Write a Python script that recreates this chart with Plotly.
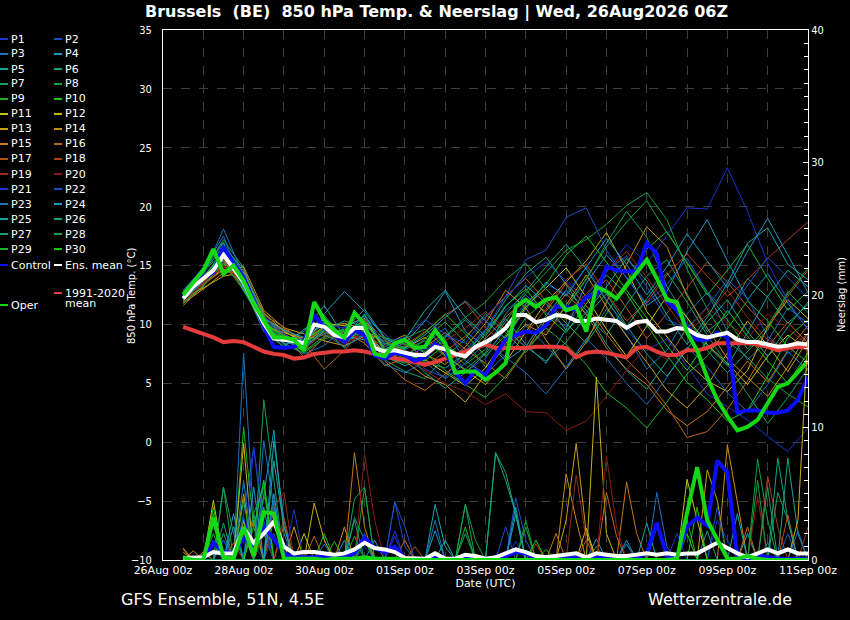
"""
GFS ensemble plume for Brussels: 850 hPa temperature and precipitation.
"""
import pandas as pd
import plotly.graph_objects as go

# ---------------------------------------------------------------------------
# Data (6-hourly for the main curves, 12-hourly for the temperature members)
# ---------------------------------------------------------------------------
START = "2026-08-26 12:00"
N_STEPS = 63

T_MEAN = [12.2, 13.2, 13.9, 14.6, 15.9, 14.8, 13.6, 11.8, 10.1, 8.8,
          8.7, 8.6, 8.4, 10.0, 9.8, 9.1, 8.9, 9.7, 9.7, 8.0,
          7.7, 7.8, 7.6, 7.4, 7.4, 8.1, 7.9, 7.5, 7.3, 8.1,
          8.5, 9.0, 9.7, 10.8, 10.8, 10.2, 10.4, 10.8, 10.7, 10.3,
          10.3, 10.5, 10.4, 10.3, 9.7, 10.2, 10.3, 9.4, 9.4, 9.7,
          9.6, 9.1, 8.9, 9.1, 9.3, 8.7, 8.5, 8.5, 8.3, 8.1,
          8.2, 8.4, 8.3]
T_CLIM = [9.8, 9.5, 9.2, 8.9, 8.5, 8.6, 8.5, 8.1, 7.7, 7.5,
          7.4, 7.1, 7.2, 7.5, 7.6, 7.7, 7.7, 7.8, 7.7, 7.5,
          7.3, 7.1, 7.0, 6.8, 6.6, 6.8, 7.1, 7.4, 7.7, 8.0,
          8.3, 8.0, 8.0, 8.0, 8.0, 8.1, 8.1, 8.1, 8.0, 7.2,
          7.6, 7.7, 7.6, 7.4, 7.2, 8.0, 8.1, 7.7, 7.4, 7.4,
          7.8, 7.8, 8.0, 8.4, 8.4, 8.4, 8.4, 8.3, 8.1, 7.8,
          8.0, 8.1, 8.0]
T_CONTROL = [12.3, 13.2, 14.0, 14.4, 16.6, 15.2, 14.0, 12.0, 9.8, 8.1,
             8.0, 8.1, 8.6, 10.8, 9.7, 9.1, 8.5, 9.5, 9.1, 7.4,
             7.1, 7.6, 7.4, 6.9, 7.2, 8.3, 7.8, 5.9, 5.0, 6.1,
             5.7, 7.4, 8.7, 9.1, 9.4, 9.3, 9.9, 11.5, 11.5, 11.2,
             12.3, 12.5, 14.9, 14.6, 14.5, 14.5, 16.9, 16.0, 12.0, 11.2,
             9.8, 8.7, 8.7, 9.3, 8.9, 2.5, 2.7, 2.7, 2.5, 2.5,
             2.7, 3.6, 5.5]
T_OPER = [12.5, 13.5, 14.6, 16.4, 14.3, 15.0, 13.7, 11.8, 10.3, 8.9,
          8.9, 8.7, 7.8, 11.9, 10.4, 9.5, 8.9, 11.0, 10.0, 7.5,
          7.3, 8.4, 8.7, 8.0, 8.1, 9.5, 8.4, 5.9, 6.0, 6.0,
          5.3, 5.9, 6.7, 11.5, 12.1, 11.5, 12.1, 12.3, 11.2, 11.5,
          9.4, 13.2, 12.8, 12.2, 13.3, 14.4, 15.5, 13.9, 12.1, 11.9,
          9.3, 7.8, 5.5, 3.6, 2.2, 1.0, 1.3, 1.9, 3.3, 4.7,
          5.0, 5.9, 6.9]

R_MEAN = [0.15, 0.2, 0.2, 0.6, 0.5, 0.5, 2.4, 1.3, 2.0, 2.9,
          1.0, 0.5, 0.6, 0.6, 0.5, 0.4, 0.5, 0.8, 1.3, 0.9,
          0.8, 0.6, 0.15, 0.1, 0.1, 0.5, 0.1, 0.1, 0.4, 0.3,
          0.1, 0.2, 0.5, 0.8, 0.6, 0.3, 0.2, 0.3, 0.4, 0.5,
          0.2, 0.5, 0.4, 0.3, 0.3, 0.4, 0.5, 0.4, 0.5, 0.4,
          0.5, 0.5, 0.9, 1.3, 0.9, 0.5, 0.2, 0.5, 0.8, 0.5,
          0.8, 0.5, 0.5]
R_CONTROL = [0.0, 0.0, 0.0, 1.3, 0.6, 0.5, 1.7, 1.0, 2.5, 1.6,
             0.5, 0.2, 0.2, 0.2, 0.3, 0.2, 0.3, 0.5, 1.7, 0.9,
             0.6, 1.0, 0.1, 0.0, 0.0, 0.2, 0.0, 0.0, 0.1, 0.1,
             0.0, 0.2, 0.3, 0.6, 0.5, 0.1, 0.1, 0.2, 0.2, 0.2,
             0.1, 0.2, 0.1, 0.1, 0.1, 0.2, 0.5, 2.8, 0.3, 0.3,
             2.5, 3.2, 2.6, 7.5, 6.6, 0.2, 0.1, 0.4, 0.2, 0.1,
             0.1, 0.1, 0.1]
R_OPER = [0.2, 0.0, 0.0, 3.2, 0.2, 0.1, 2.5, 0.3, 3.6, 3.5,
          0.1, 0.1, 0.1, 0.1, 0.0, 0.1, 0.1, 0.1, 0.2, 0.1,
          0.1, 0.1, 0.0, 0.0, 0.0, 0.0, 0.0, 0.0, 0.0, 0.0,
          0.0, 0.0, 0.0, 0.0, 0.0, 0.0, 0.0, 0.0, 0.0, 0.0,
          0.0, 0.0, 0.0, 0.0, 0.0, 0.0, 0.0, 0.0, 0.0, 0.1,
          3.5, 7.0, 3.0, 1.5, 0.1, 0.1, 0.3, 0.1, 0.0, 0.0,
          0.0, 0.0, 0.0]

# member 850 hPa temperatures, 12-hourly
T_P01 = [12.0, 14.2, 16.8, 14.5, 10.6, 8.2, 8.9, 10.3, 8.4, 9.9, 7.1, 6.8, 7.9, 8.5, 6.0, 7.1,
         9.8, 11.8, 13.4, 12.6, 14.9, 12.1, 9.5, 7.8, 8.8, 6.4, 4.1, 3.0, 1.9, 0.5, -0.8, 1.2]
T_P02 = [12.4, 13.6, 15.2, 13.9, 10.9, 9.1, 8.0, 9.4, 9.3, 10.2, 8.4, 7.9, 6.2, 5.5, 7.8, 9.6,
         11.2, 12.5, 11.0, 9.8, 12.4, 14.6, 15.8, 13.2, 10.4, 9.7, 11.5, 13.8, 12.2, 9.0, 7.5, 8.9]
T_P03 = [12.9, 14.8, 17.5, 13.2, 9.5, 8.4, 7.5, 8.2, 9.8, 10.6, 9.2, 7.4, 8.3, 9.7, 6.9, 5.8,
         7.4, 9.9, 8.2, 6.4, 8.7, 11.3, 9.1, 6.2, 7.8, 10.9, 12.7, 9.4, 7.0, 8.6, 11.4, 10.1]
T_P04 = [11.9, 13.2, 16.1, 14.2, 10.2, 9.5, 8.3, 10.6, 8.6, 9.1, 7.8, 8.4, 10.3, 12.8, 9.4, 8.1,
         10.5, 8.3, 6.7, 9.6, 13.5, 15.9, 14.0, 11.6, 12.8, 16.2, 18.9, 15.4, 12.1, 14.3, 11.8, 9.6]
T_P05 = [12.5, 14.0, 15.4, 13.0, 9.8, 8.6, 9.4, 11.6, 9.0, 8.7, 7.3, 6.5, 7.1, 8.9, 10.4, 8.7,
         6.9, 8.1, 10.7, 12.9, 11.2, 8.3, 6.1, 4.5, 6.9, 9.8, 8.2, 6.5, 9.3, 12.4, 14.6, 13.2]
T_P06 = [12.1, 13.5, 16.4, 12.8, 10.4, 9.0, 8.6, 9.2, 9.5, 11.3, 8.9, 7.8, 6.8, 6.3, 7.5, 9.4,
         12.1, 14.3, 15.7, 13.4, 10.8, 9.1, 11.7, 14.1, 15.5, 12.6, 9.4, 10.8, 13.9, 12.3, 10.1, 11.7]
T_P07 = [12.6, 14.4, 17.2, 14.8, 10.0, 8.0, 7.9, 10.8, 8.7, 9.4, 7.0, 6.0, 5.4, 7.2, 8.8, 10.9,
         9.3, 7.6, 9.9, 11.4, 13.8, 16.9, 19.6, 17.4, 13.2, 10.6, 7.8, 5.9, 7.7, 9.5, 12.8, 11.0]
T_P08 = [12.3, 13.8, 15.6, 14.0, 9.6, 8.9, 8.2, 9.9, 9.1, 10.1, 8.1, 8.8, 9.6, 8.0, 6.6, 7.9,
         10.2, 12.6, 14.4, 16.3, 17.2, 18.5, 20.1, 21.2, 18.9, 14.7, 11.3, 8.6, 7.2, 5.4, 4.1, 3.0]
T_P09 = [12.7, 14.6, 16.0, 13.5, 10.7, 8.3, 8.6, 9.6, 8.0, 10.8, 7.6, 7.2, 8.8, 10.2, 8.5, 6.4,
         8.0, 10.6, 12.0, 10.1, 8.4, 10.9, 13.6, 16.4, 17.9, 15.2, 12.5, 14.6, 16.8, 13.9, 11.2, 12.8]
T_P10 = [12.0, 13.9, 15.8, 13.3, 10.3, 8.8, 7.7, 9.0, 9.6, 9.2, 8.6, 7.5, 6.9, 8.3, 7.1, 9.2,
         11.6, 13.0, 10.8, 9.3, 11.8, 14.2, 12.6, 10.0, 7.4, 5.1, 3.6, 1.8, 2.7, 5.6, 8.9, 10.4]
T_P11 = [12.8, 13.4, 14.7, 13.8, 9.9, 9.3, 8.8, 10.1, 9.9, 10.5, 7.9, 8.6, 7.0, 5.9, 4.8, 6.3,
         8.9, 11.5, 13.1, 14.8, 12.3, 9.6, 7.3, 9.9, 12.4, 10.6, 8.3, 6.7, 4.9, 7.3, 9.1, 7.8]
T_P12 = [12.2, 13.1, 14.1, 14.4, 11.0, 9.4, 8.5, 9.5, 8.8, 9.9, 7.4, 8.0, 8.9, 7.4, 6.1, 4.9,
         6.8, 9.4, 11.9, 13.6, 15.4, 17.8, 14.6, 11.1, 8.9, 6.8, 5.2, 4.3, 6.1, 9.8, 12.1, 10.5]
T_P13 = [11.8, 13.0, 14.4, 14.9, 11.2, 9.7, 9.2, 8.6, 8.2, 9.0, 7.7, 6.9, 5.6, 4.9, 3.4, 5.8,
         8.4, 10.0, 9.1, 11.7, 14.2, 11.5, 9.0, 6.8, 4.4, 2.9, 4.8, 7.6, 10.3, 8.2, 6.0, 8.7]
T_P14 = [12.4, 14.1, 15.5, 13.1, 10.5, 9.6, 8.7, 9.8, 10.1, 9.6, 8.3, 9.1, 7.5, 6.6, 8.1, 10.1,
         12.9, 11.4, 8.7, 6.2, 8.5, 11.9, 15.1, 18.3, 16.6, 12.4, 9.7, 7.1, 5.5, 3.9, 6.4, 9.3]
T_P15 = [11.6, 13.3, 14.9, 13.7, 9.9, 9.2, 7.2, 8.9, 9.4, 8.4, 6.5, 7.1, 8.1, 9.3, 7.9, 6.7,
         5.4, 7.8, 10.4, 12.6, 10.9, 8.0, 6.2, 4.9, 2.7, 1.4, 2.6, 4.7, 6.9, 5.1, 7.8, 9.9]
T_P16 = [12.1, 13.7, 15.1, 14.6, 10.8, 9.8, 8.4, 6.2, 7.8, 9.7, 6.9, 5.3, 4.4, 5.8, 7.2, 8.8,
         10.6, 12.2, 11.1, 13.5, 11.6, 9.2, 7.0, 5.3, 3.1, 0.4, 0.9, 2.8, 5.2, 8.1, 10.2, 8.4]
T_P17 = [12.3, 13.9, 15.3, 13.4, 10.0, 8.5, 8.9, 9.1, 8.5, 10.4, 8.7, 7.6, 6.4, 7.7, 9.0, 10.6,
         12.4, 13.9, 12.0, 10.4, 12.2, 13.8, 11.4, 8.8, 10.9, 13.1, 15.3, 13.6, 11.5, 9.7, 12.4, 14.6]
T_P18 = [11.9, 13.4, 14.6, 13.9, 10.6, 9.3, 7.9, 9.3, 8.9, 9.5, 7.5, 8.2, 9.4, 10.8, 11.9, 9.7,
         8.3, 9.2, 11.3, 13.8, 15.1, 12.7, 10.3, 11.9, 14.2, 16.0, 14.1, 12.4, 13.8, 15.6, 17.2, 18.7]
T_P19 = [12.2, 13.6, 15.0, 13.2, 10.1, 8.7, 8.6, 9.7, 9.2, 8.8, 7.6, 8.4, 7.1, 8.6, 9.7, 11.1,
         9.6, 8.0, 9.4, 11.0, 12.6, 14.5, 16.2, 14.0, 11.7, 9.3, 10.8, 12.9, 10.6, 8.7, 7.9, 9.2]
T_P20 = [12.0, 13.5, 14.9, 13.6, 10.4, 9.1, 8.1, 9.4, 8.3, 9.3, 8.0, 7.0, 6.1, 5.0, 4.3, 3.2,
         4.1, 2.6, 2.5, 1.0, 1.8, 3.9, 6.1, 8.2, 7.0, 9.6, 11.4, 10.1, 8.8, 10.9, 9.6, 8.3]
T_P21 = [12.6, 14.0, 16.3, 13.8, 9.7, 8.6, 8.8, 10.0, 9.7, 10.6, 8.2, 7.3, 8.0, 9.1, 8.4, 10.7,
         12.3, 14.0, 15.3, 13.7, 12.1, 14.4, 16.8, 15.2, 17.6, 19.9, 19.8, 23.3, 19.6, 15.2, 12.0, 9.5]
T_P22 = [12.1, 13.8, 16.0, 13.9, 10.3, 9.2, 8.1, 9.6, 9.4, 10.0, 8.5, 8.9, 10.4, 9.2, 7.6, 9.5,
         12.4, 15.5, 16.3, 19.1, 19.9, 16.3, 13.9, 11.8, 13.4, 15.6, 12.8, 10.9, 13.3, 15.7, 14.0, 12.2]
T_P23 = [12.4, 14.3, 18.1, 14.1, 9.9, 8.4, 8.3, 9.2, 8.1, 9.1, 6.6, 5.9, 6.8, 5.4, 6.7, 8.5,
         7.2, 5.9, 4.1, 6.3, 8.8, 7.1, 5.0, 3.2, 5.5, 8.1, 6.4, 4.2, 2.6, 4.9, 7.7, 6.1]
T_P24 = [12.7, 14.9, 17.0, 13.0, 10.5, 9.5, 8.9, 10.9, 12.8, 11.1, 8.8, 8.0, 9.1, 10.6, 12.0, 10.3,
         8.8, 11.3, 13.6, 12.4, 14.8, 17.3, 15.1, 12.5, 14.9, 17.7, 15.4, 13.1, 16.2, 19.0, 15.9, 12.7]
T_P25 = [12.0, 13.7, 15.7, 13.3, 9.4, 8.1, 9.6, 10.4, 8.8, 10.9, 7.9, 8.7, 11.2, 12.9, 10.6, 9.0,
         11.5, 13.3, 11.8, 9.5, 11.0, 13.2, 15.6, 13.7, 10.8, 8.3, 10.6, 13.5, 16.9, 18.2, 15.1, 13.8]
T_P26 = [12.5, 14.5, 16.6, 14.7, 10.7, 9.0, 8.0, 9.5, 10.3, 9.8, 7.2, 7.7, 5.9, 4.6, 5.9, 7.5,
         9.6, 8.1, 6.9, 8.5, 10.7, 12.6, 9.9, 7.5, 5.6, 7.9, 10.2, 12.1, 9.4, 7.3, 9.8, 11.9]
T_P27 = [12.2, 14.1, 15.9, 13.6, 10.0, 8.8, 8.5, 10.2, 9.0, 10.0, 8.4, 7.9, 8.6, 7.3, 6.2, 7.6,
         10.9, 12.8, 14.9, 16.8, 14.7, 12.0, 9.8, 12.2, 14.4, 11.9, 9.1, 6.6, 4.0, 1.6, 3.8, 6.3]
T_P28 = [12.8, 14.7, 16.9, 14.3, 10.2, 8.3, 7.6, 8.8, 9.1, 9.3, 8.9, 8.3, 7.7, 9.0, 10.6, 11.9,
         13.8, 15.2, 13.0, 11.4, 13.9, 16.6, 18.7, 20.5, 17.8, 15.3, 12.7, 10.4, 7.9, 9.9, 12.6, 14.8]
T_P29 = [11.8, 13.3, 15.2, 12.9, 9.8, 8.6, 8.2, 9.4, 8.6, 9.6, 7.3, 6.7, 7.6, 6.1, 4.9, 3.8,
         5.6, 7.9, 9.7, 8.3, 6.6, 4.2, 2.9, 1.2, 3.4, 5.8, 7.3, 9.6, 12.0, 10.3, 8.1, 6.8]
T_P30 = [12.3, 14.0, 16.2, 13.7, 10.1, 9.0, 8.7, 9.7, 9.4, 10.3, 7.8, 8.1, 9.3, 10.9, 9.2, 7.3,
         9.1, 11.7, 13.4, 15.9, 17.5, 15.3, 12.9, 10.6, 8.2, 6.1, 8.6, 11.2, 9.0, 6.9, 5.0, 7.6]

# member precipitation (mm per 6 h), only the non-zero steps: {step: mm}
R_P01 = {3: 0.8, 6: 2.1, 7: 1.2, 18: 1.0, 21: 2.2, 33: 1.4, 53: 3.0, 54: 1.5}
R_P02 = {6: 3.5, 7: 8.5, 8: 2.0, 21: 4.4, 22: 1.0, 33: 4.7, 34: 1.5, 60: 2.0}
R_P03 = {6: 15.6, 7: 3.0, 9: 4.5, 14: 1.2, 18: 2.0, 47: 5.1, 48: 1.0, 58: 1.3}
R_P04 = {5: 2.5, 8: 5.0, 9: 9.8, 10: 2.0, 19: 1.5, 25: 2.2, 41: 1.6, 44: 1.2}
R_P05 = {4: 1.5, 7: 3.5, 9: 9.0, 10: 3.0, 25: 4.2, 26: 1.0, 33: 3.4, 56: 2.0}
R_P06 = {2: 0.5, 8: 4.0, 17: 3.2, 18: 1.5, 31: 8.1, 32: 6.6, 33: 3.5, 52: 2.2, 60: 7.7, 61: 2.0}
R_P07 = {4: 2.8, 8: 12.1, 9: 6.0, 17: 4.6, 18: 5.5, 28: 2.0, 59: 5.1, 60: 3.0}
R_P08 = {4: 5.5, 6: 3.0, 8: 4.8, 9: 3.0, 17: 1.8, 28: 4.2, 29: 1.5, 57: 7.6, 58: 3.0}
R_P09 = {3: 2.0, 6: 10.0, 7: 2.5, 15: 1.4, 34: 2.5, 41: 1.0}
R_P10 = {3: 3.5, 8: 2.0, 18: 1.5, 36: 0.8, 50: 2.0}
R_P11 = {0: 0.8, 3: 4.5, 6: 3.0, 12: 2.0, 40: 2.4, 50: 6.1, 51: 3.0}
R_P12 = {6: 8.8, 13: 4.3, 14: 1.5, 41: 13.8, 42: 2.0, 61: 3.0, 62: 17.0}
R_P13 = {0: 0.6, 6: 5.0, 11: 2.5, 38: 3.0, 39: 8.8, 40: 2.0, 52: 6.8, 53: 4.5}
R_P14 = {1: 0.7, 9: 4.0, 16: 2.5, 38: 6.5, 39: 3.0, 54: 8.7, 55: 4.5}
R_P15 = {0: 0.9, 7: 3.0, 17: 8.1, 18: 2.5, 37: 2.0, 44: 5.9, 45: 2.0}
R_P16 = {2: 0.6, 10: 2.6, 13: 1.8, 22: 1.5, 42: 5.1, 43: 1.8, 56: 2.5}
R_P17 = {5: 1.3, 9: 3.0, 23: 1.0, 40: 1.5, 60: 3.4}
R_P18 = {6: 2.0, 10: 3.2, 35: 1.2, 58: 6.3, 59: 2.5}
R_P19 = {9: 4.0, 10: 5.1, 39: 6.4, 40: 1.5, 62: 2.5}
R_P20 = {8: 2.0, 18: 8.0, 19: 3.0, 42: 7.9, 43: 2.5, 57: 4.8}
R_P21 = {4: 1.5, 7: 8.5, 8: 3.0, 11: 3.8, 21: 1.8, 49: 2.0}
R_P22 = {6: 3.2, 9: 2.0, 21: 4.4, 22: 2.5, 32: 2.5, 53: 4.0}
R_P23 = {6: 6.0, 8: 9.0, 9: 4.0, 25: 3.0, 47: 2.5, 61: 2.2}
R_P24 = {5: 3.5, 7: 5.5, 9: 5.0, 16: 1.5, 33: 4.0, 44: 1.5}
R_P25 = {3: 1.5, 9: 7.5, 10: 2.5, 26: 1.5, 46: 2.8, 55: 3.5}
R_P26 = {4: 2.0, 8: 6.0, 31: 8.1, 32: 6.0, 33: 3.5, 59: 7.7, 60: 3.0}
R_P27 = {4: 5.5, 5: 2.0, 17: 3.0, 28: 4.2, 58: 5.5}
R_P28 = {7: 3.5, 8: 5.5, 18: 5.5, 34: 3.0, 57: 6.0}
R_P29 = {3: 3.0, 6: 4.5, 14: 2.0, 28: 2.5, 50: 3.0}
R_P30 = {3: 4.0, 7: 2.5, 8: 6.0, 35: 1.5, 51: 4.0}

TICK_DATES = ["2026-08-26", "2026-08-28", "2026-08-30", "2026-09-01", "2026-09-03",
              "2026-09-05", "2026-09-07", "2026-09-09", "2026-09-11"]
TICK_LABELS = ["26Aug 00z", "28Aug 00z", "30Aug 00z", "01Sep 00z", "03Sep 00z",
               "05Sep 00z", "07Sep 00z", "09Sep 00z", "11Sep 00z"]

# colour ramp of P1..P20, repeated for P21..P30
MEMBER_COLORS = ["#1e34d2", "#1a50c4", "#1a72c0", "#1a96c6", "#16a6a8",
                 "#14a484", "#14a062", "#16a040", "#1cb424", "#16c814",
                 "#c4c414", "#c8b212", "#c89e12", "#c88c12", "#c87814",
                 "#c06612", "#b45214", "#b03e16", "#9e2a16", "#8c1818"]

FONT = "DejaVu Sans"
NARROW = "DejaVu Sans Condensed, DejaVu Sans"

# plot area in pixels
LEFT, RIGHT, TOP, BOTTOM = 163, 808, 30, 560


def px(x):
    """Pixel x -> paper x."""
    return (x - LEFT) / (RIGHT - LEFT)


def py(y):
    """Pixel y -> paper y."""
    return (BOTTOM - y) / (BOTTOM - TOP)


def full_rain(steps):
    """Expand {step: mm} into a full 6-hourly series (dry steps are 0)."""
    return [steps.get(i, 0.0) for i in range(N_STEPS)]


times6 = pd.date_range(START, periods=N_STEPS, freq="6h")
times12 = times6[::2]

member_temps = [T_P01, T_P02, T_P03, T_P04, T_P05, T_P06, T_P07, T_P08, T_P09, T_P10,
                T_P11, T_P12, T_P13, T_P14, T_P15, T_P16, T_P17, T_P18, T_P19, T_P20,
                T_P21, T_P22, T_P23, T_P24, T_P25, T_P26, T_P27, T_P28, T_P29, T_P30]
member_rain = [R_P01, R_P02, R_P03, R_P04, R_P05, R_P06, R_P07, R_P08, R_P09, R_P10,
               R_P11, R_P12, R_P13, R_P14, R_P15, R_P16, R_P17, R_P18, R_P19, R_P20,
               R_P21, R_P22, R_P23, R_P24, R_P25, R_P26, R_P27, R_P28, R_P29, R_P30]

fig = go.Figure()

# Members: temperature then precipitation
for n, temps in enumerate(member_temps):
    fig.add_trace(go.Scatter(
        x=times12[:len(temps)], y=temps, mode="lines",
        line={"color": MEMBER_COLORS[n % 20], "width": 1},
        name=f"P{n + 1}", hoverinfo="skip"))

for n, rain in enumerate(member_rain):
    fig.add_trace(go.Scatter(
        x=times6, y=full_rain(rain), mode="lines", yaxis="y2",
        line={"color": MEMBER_COLORS[n % 20], "width": 1},
        name=f"P{n + 1}", hoverinfo="skip"))

# Thick lines
THICK = [
    (T_CLIM, "y", "#e63c3c", "1991-2020 mean"),
    (T_CONTROL, "y", "#0c0cff", "Control"),
    (T_MEAN, "y", "#ffffff", "Ens. mean"),
    (T_OPER, "y", "#14d814", "Oper"),
    (R_CONTROL, "y2", "#0c0cff", "Control"),
    (R_MEAN, "y2", "#ffffff", "Ens. mean"),
    (R_OPER, "y2", "#14d814", "Oper"),
]
for vals, axis, color, name in THICK:
    fig.add_trace(go.Scatter(
        x=times6[:len(vals)], y=vals, mode="lines", yaxis=axis,
        line={"color": color, "width": 4}, name=name))

# Hand-drawn legend on the left
shapes = []
annotations = []


def legend_text(x, y, text, height=None):
    """Add one white legend label at pixel position."""
    item = dict(xref="paper", yref="paper", x=px(x), y=py(y),
                text=text, showarrow=False, xanchor="left", yanchor="middle",
                align="left", font={"size": 11, "color": "white", "family": FONT})
    if height:
        item["height"] = height
    annotations.append(item)


def legend_item(x_line, y, color, text, height=None):
    """Add one legend entry (short line + label) at pixel position."""
    shapes.append(dict(type="line", xref="paper", yref="paper",
                       x0=px(x_line), x1=px(x_line + 8), y0=py(y), y1=py(y),
                       line={"color": color, "width": 2}))
    legend_text(x_line + 8.5, y, text, height)


for row in range(15):
    y = 39 + 15 * row
    legend_item(0, y, MEMBER_COLORS[(2 * row) % 20], f"P{2 * row + 1}")
    legend_item(54, y, MEMBER_COLORS[(2 * row + 1) % 20], f"P{2 * row + 2}")
legend_item(0, 265, "#0c0cff", "Control")
legend_item(54, 265, "#ffffff", "Ens. mean")
legend_item(54, 293, "#e63c3c", "1991-2020", height=10)
legend_text(62.5, 303, "mean", height=10)
legend_item(0, 305, "#14d814", "Oper")

# Axis titles placed by hand (rotated)
annotations.append(dict(
    xref="paper", yref="paper", x=px(131), y=py(296), text="850 hPa Temp. (°C)",
    textangle=-90, showarrow=False, xanchor="center", yanchor="middle",
    font={"size": 10, "color": "white", "family": FONT}))
annotations.append(dict(
    xref="paper", yref="paper", x=px(841), y=py(295), text="Neerslag (mm)",
    textangle=-90, showarrow=False, xanchor="center", yanchor="middle",
    font={"size": 10, "color": "white", "family": FONT}))

# Title and footer texts
annotations.append(dict(
    xref="paper", yref="paper", x=px(436), y=py(12),
    text="<b>Brussels\u00a0\u00a0(BE)\u00a0\u00a0850 hPa Temp. &amp; Neerslag | Wed, 26Aug2026 06Z</b>",
    showarrow=False, xanchor="center", yanchor="middle",
    font={"size": 16, "color": "white", "family": FONT}))
annotations.append(dict(
    xref="paper", yref="paper", x=px(119), y=py(599), text="GFS Ensemble, 51N, 4.5E",
    showarrow=False, xanchor="left", yanchor="middle",
    font={"size": 16, "color": "white", "family": FONT}))
annotations.append(dict(
    xref="paper", yref="paper", x=px(794), y=py(599), text="Wetterzentrale.de",
    showarrow=False, xanchor="right", yanchor="middle",
    font={"size": 16, "color": "white", "family": FONT}))

GRID = "#3e3e3e"

fig.update_layout(
    width=850, height=620,
    margin={"l": LEFT, "r": 850 - RIGHT, "t": TOP, "b": 620 - BOTTOM},
    paper_bgcolor="black", plot_bgcolor="black",
    font={"family": FONT, "size": 11, "color": "white"},
    showlegend=False,
    shapes=shapes, annotations=annotations,
    xaxis={
        "type": "date",
        "range": ["2026-08-26 00:00", "2026-09-11 00:00"],
        "tickvals": TICK_DATES, "ticktext": TICK_LABELS,
        "tickfont": {"size": 11},
        "showgrid": True, "gridcolor": GRID, "griddash": "dash", "gridwidth": 1,
        "minor": {"dtick": 86400000, "showgrid": True, "gridcolor": GRID,
                  "griddash": "dash"},
        "showline": True, "linecolor": "white", "linewidth": 1, "mirror": True,
        "zeroline": False,
        "title": {"text": "Date (UTC)", "font": {"size": 11}, "standoff": 2},
    },
    yaxis={
        "range": [-10, 35], "dtick": 5,
        "showgrid": True, "gridcolor": GRID, "griddash": "dash",
        "showline": True, "linecolor": "white", "linewidth": 1,
        "zeroline": False, "ticklabelstandoff": 8,
        "tickfont": {"size": 11, "family": NARROW},
    },
    yaxis2={
        "overlaying": "y", "side": "right",
        "range": [0, 40], "tickvals": [0, 10, 20, 30, 40],
        "showgrid": False, "zeroline": False,
        "showline": True, "linecolor": "white", "linewidth": 1,
        "ticks": "inside", "ticklen": 5, "tickcolor": "white",
        "minor": {"dtick": 1, "ticks": "inside", "ticklen": 4, "tickcolor": "white"},
        "tickfont": {"size": 11, "family": NARROW},
    },
)

# the page's default body margin would shift the figure by 8 px
fig.write_html("out.html", config={"displayModeBar": False},
               post_script="document.body.style.margin = '0px';")
